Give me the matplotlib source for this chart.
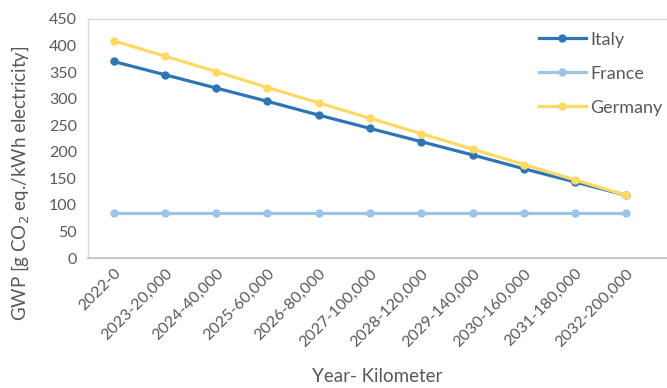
import numpy as np
import matplotlib.pyplot as plt

plt.rcParams['font.family'] = ['Lato', 'DejaVu Sans']

categories = ["2022-0", "2023-20,000", "2024-40,000", "2025-60,000", "2026-80,000",
              "2027-100,000", "2028-120,000", "2029-140,000", "2030-160,000",
              "2031-180,000", "2032-200,000"]
italy = [370, 345, 320, 295, 269, 244, 219, 194, 168, 143, 118]
france = [85, 85, 85, 85, 85, 85, 85, 85, 85, 85, 85]
germany = [409, 380, 351, 321, 292, 263, 234, 205, 176, 147, 118]

x = np.arange(len(categories))
txt = '#595959'

fig = plt.figure(figsize=(6.67, 3.88), dpi=100)
ax = fig.add_axes([88/667, 1 - 258/388, 1 - 88/667, 239/388])

ax.plot(x, italy, color='#2E75B6', lw=2.3, marker='o', ms=5, label='Italy', zorder=3)
ax.plot(x, france, color='#9DC3E6', lw=2.3, marker='o', ms=5, label='France', zorder=2)
ax.plot(x, germany, color='#FFD966', lw=2.3, marker='o', ms=5, label='Germany', zorder=4)

ax.set_xlim(-0.5, 10.79)
ax.set_ylim(0, 450)
ax.set_yticks(np.arange(0, 451, 50))
ax.set_xticks(x)
ax.set_xticklabels(categories, rotation=45, ha='right', rotation_mode='anchor')
ax.tick_params(axis='both', length=0, labelsize=11.5, colors=txt)
ax.tick_params(axis='y', pad=8)
ax.tick_params(axis='x', pad=6)

for s in ['top', 'left']:
    ax.spines[s].set_color('#d9d9d9')
    ax.spines[s].set_linewidth(1)
ax.spines['bottom'].set_color('#bfbfbf')
ax.spines['bottom'].set_linewidth(1.2)
ax.spines['right'].set_visible(False)

ax.set_ylabel('GWP [g CO$_2$ eq./kWh electricity]', fontsize=13.5, color=txt)
ax.yaxis.set_label_coords(-0.098, 0.314)
ax.set_xlabel('Year- Kilometer', fontsize=13.5, color=txt)
ax.xaxis.set_label_coords(0.499, -0.462)

leg = ax.legend(loc='upper right', bbox_to_anchor=(1.02, 1.015), frameon=False,
                fontsize=13, labelspacing=1.0, handlelength=2.6, handletextpad=0.25)
for t in leg.get_texts():
    t.set_color(txt)

fig.savefig('out.png', dpi=100)
